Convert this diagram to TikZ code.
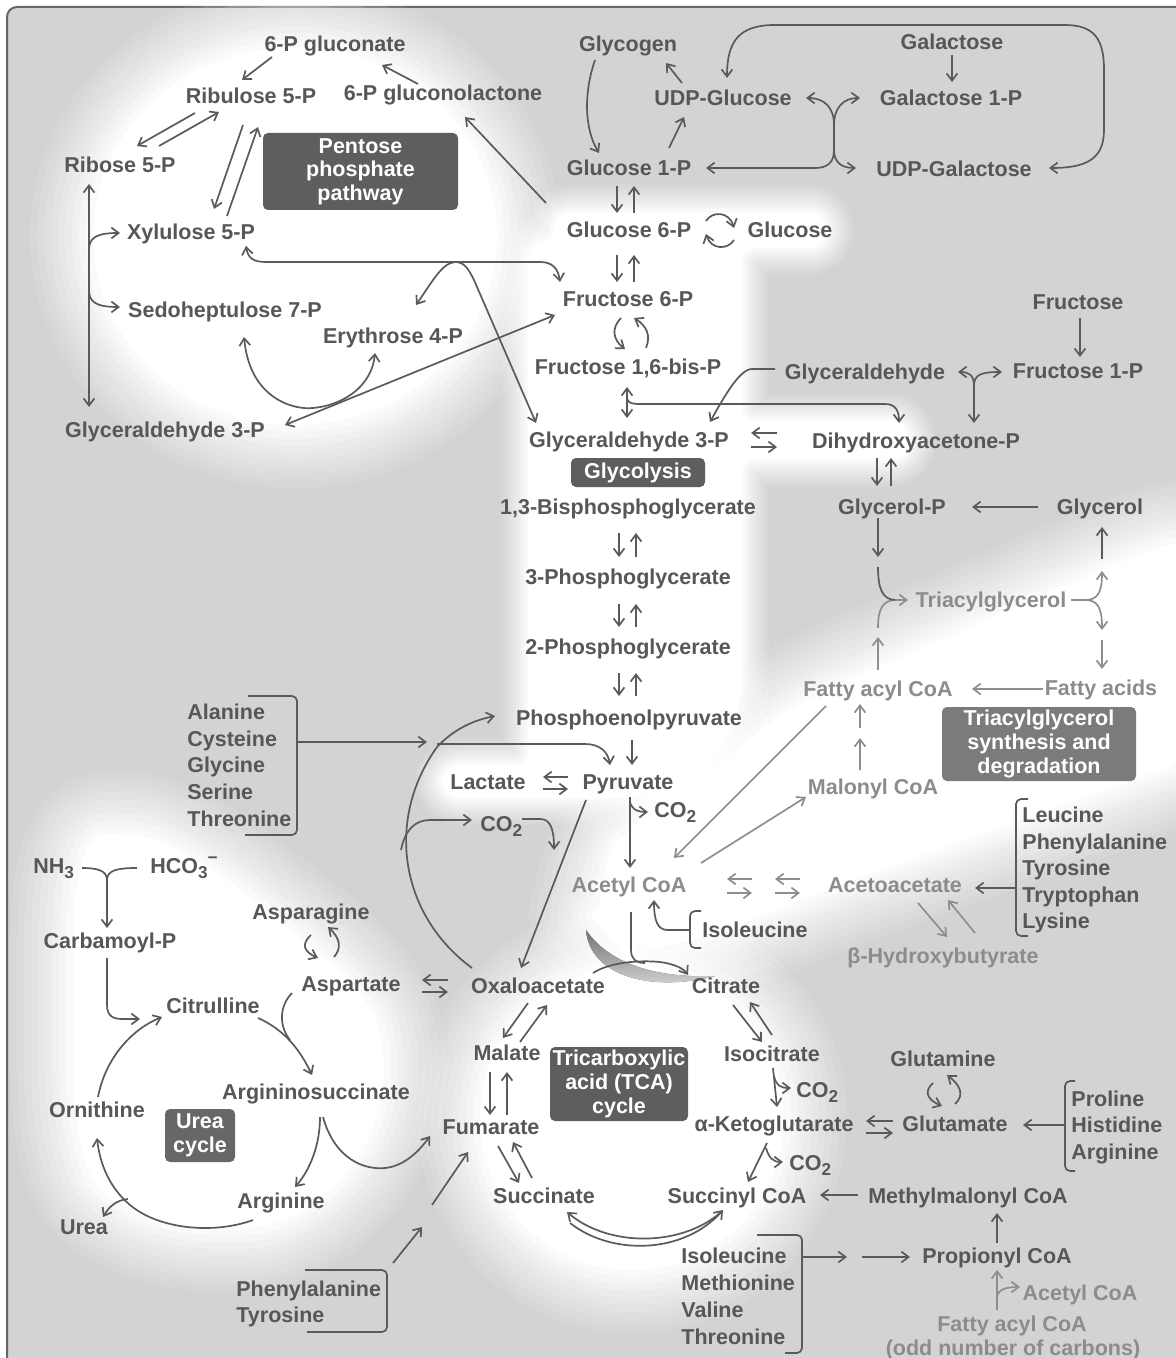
\documentclass[tikz,border=0pt]{standalone}
\usepackage{fontspec}
\setmainfont{Liberation Sans}
\usetikzlibrary{arrows.meta}
\definecolor{bg}{HTML}{D3D3D3}
\definecolor{txt}{HTML}{575757}
\definecolor{ltxt}{HTML}{8C8C8C}
\definecolor{ln}{HTML}{5A5A5A}
\definecolor{lln}{HTML}{8E8E8E}
\definecolor{boxd}{HTML}{5E5E5E}
\definecolor{boxu}{HTML}{676767}
\definecolor{boxl}{HTML}{7B7B7B}
\definecolor{shade}{HTML}{CFCFCF}
\newcommand\sbs[1]{\raisebox{-0.45ex}{\fontsize{8.6pt}{8.6pt}\selectfont #1}}
\newcommand\glowpath[2]{%
  \foreach \m in {10,9,8,7,6,5,4,3,2,1}{%
    \pgfmathsetmacro\op{1/\m}%
    \pgfmathsetmacro\lw{2*\m*#1}%
    \draw[white,opacity=\op,line width=\lw pt,line join=round] #2;}%
  \fill[white] #2;}
\begin{document}
\begin{tikzpicture}[x=0.5pt,y=-0.5pt,
 n/.style={font=\bfseries\fontsize{10.75pt}{13.4pt}\selectfont,text=txt,inner sep=0pt,text height=7.7pt,text depth=0pt},
 nl/.style={n,text=ltxt},
 bx/.style={font=\bfseries\fontsize{10.75pt}{11.8pt}\selectfont,text=white,fill=boxd,rounded corners=2.5pt,align=center,inner sep=0pt},
 ar/.style={draw=ln,line width=0.85pt,-{Straight Barb[length=3.6pt,width=5.4pt]}},
 dar/.style={draw=ln,line width=0.85pt,{Straight Barb[length=3.6pt,width=5.4pt]}-{Straight Barb[length=3.6pt,width=5.4pt]}},
 lar/.style={ar,draw=lln},
 lnn/.style={draw=ln,line width=0.85pt},
 llnn/.style={draw=lln,line width=0.85pt},
 brk/.style={draw=ln,line width=0.85pt,rounded corners=2.5pt}]
\useasboundingbox (0,0) rectangle (1176,1358);
\fill[white] (0,0) rectangle (1176,1358);
\draw[fill=bg,draw=black!60,line width=1pt,rounded corners=5pt] (7,7) rectangle (1220,1400);
% glowing regions
\glowpath{3.5}{(295,236) ellipse [x radius=97.5pt, y radius=91pt]}
\glowpath{1.5}{[rounded corners=8pt] (556,215) -- (824,215) -- (824,245) -- (739,245) -- (739,424) -- (906,424) -- (906,457) -- (739,457) -- (739,700) -- (695,795) -- (445,795) -- (445,768) -- (531,768) -- (531,245) -- (556,245) -- cycle}
\glowpath{3.5}{[rounded corners=20pt] (795,711) -- (1123,568) -- (1200,540) -- (1200,749) -- (826,882) -- (695,935) -- (625,945) -- (608,925) -- (606,880) -- (630,830) -- (705,785) -- cycle}
\glowpath{3.5}{plot[smooth cycle, tension=0.7] coordinates {(88,866) (128,842) (195,868) (270,922) (342,985) (375,1045) (362,1135) (298,1205) (215,1221) (128,1200) (88,1145) (80,1005)}}
\glowpath{3.5}{(632,1118) circle [radius=72.5pt]}
\fill[shade,opacity=0.85] (586,930) .. controls (590,978) and (655,992) .. (715,976) .. controls (665,978) and (612,968) .. (586,930);

% ---------- nodes ----------
\node[n] (pglc) at (335,44) {6-P gluconate};
\node[n] (ru5p) at (251,96) {Ribulose 5-P};
\node[n] (pglac) at (443,93) {6-P gluconolactone};
\node[n] (r5p) at (120,165) {Ribose 5-P};
\node[n] (x5p) at (191,232) {Xylulose 5-P};
\node[n] (s7p) at (225,310) {Sedoheptulose 7-P};
\node[n] (e4p) at (393,336) {Erythrose 4-P};
\node[n] (ga3pl) at (165,430) {Glyceraldehyde 3-P};
\node[bx,minimum width=97.5pt,minimum height=38.5pt] (ppp) at (360.5,171.5) {Pentose\\phosphate\\pathway};
\node[n] (glycogen) at (628,44) {Glycogen};
\node[n] (udpglc) at (723,98) {UDP-Glucose};
\node[n] (gal) at (952,42) {Galactose};
\node[n] (gal1p) at (951,98) {Galactose 1-P};
\node[n] (g1p) at (629,168) {Glucose 1-P};
\node[n] (udpgal) at (954,169) {UDP-Galactose};
\node[n] (g6p) at (629,230) {Glucose 6-P};
\node[n] (glc) at (790,230) {Glucose};
\node[n] (f6p) at (628,299) {Fructose 6-P};
\node[n] (fru) at (1078,302) {Fructose};
\node[n] (fbp) at (628,367) {Fructose 1,6-bis-P};
\node[n] (glyald) at (865,372) {Glyceraldehyde};
\node[n] (f1p) at (1078,371) {Fructose 1-P};
\node[n] (ga3p) at (629,440) {Glyceraldehyde 3-P};
\node[n] (dhap) at (916,441) {Dihydroxyacetone-P};
\node[bx,minimum width=67pt,minimum height=14.5pt] (glyc) at (638,472.5) {Glycolysis};
\node[n] (bpg) at (628,507) {1,3-Bisphosphoglycerate};
\node[n] (glp) at (892,507) {Glycerol-P};
\node[n] (glycerol) at (1100,507) {Glycerol};
\node[n] (pg3) at (628,577) {3-Phosphoglycerate};
\node[nl] (tag) at (991,600) {Triacylglycerol};
\node[n] (pg2) at (628,647) {2-Phosphoglycerate};
\node[nl] (facoa) at (878,689) {Fatty acyl CoA};
\node[nl] (fa) at (1101,688) {Fatty acids};
\node[bx,fill=boxl,minimum width=97pt,minimum height=37pt] (tagbox) at (1039,744) {Triacylglycerol\\synthesis and\\degradation};
\node[n] (pep) at (629,718) {Phosphoenolpyruvate};
\node[n,anchor=west] (ala) at (187,712) {Alanine};
\node[n,anchor=west] (cys) at (187,739) {Cysteine};
\node[n,anchor=west] (gly) at (187,765) {Glycine};
\node[n,anchor=west] (ser) at (187,792) {Serine};
\node[n,anchor=west] (thr) at (187,819) {Threonine};
\node[n] (lac) at (488,782) {Lactate};
\node[n] (pyr) at (628,782) {Pyruvate};
\node[n,anchor=west] (co2a) at (654,810) {CO\sbs{2}};
\node[n,anchor=west] (co2b) at (480,824) {CO\sbs{2}};
\node[nl] (malcoa) at (873,787) {Malonyl CoA};
\node[n,anchor=west] (leu) at (1022,815) {Leucine};
\node[n,anchor=west] (phe) at (1022,842) {Phenylalanine};
\node[n,anchor=west] (tyr) at (1022,868) {Tyrosine};
\node[n,anchor=west] (trp) at (1022,895) {Tryptophan};
\node[n,anchor=west] (lys) at (1022,921) {Lysine};
\node[n,anchor=west] (nh3) at (33,866) {NH\sbs{3}};
\node[n,anchor=west] (hco3) at (150,866) {HCO\sbs{3}\raisebox{0.9ex}{\fontsize{8.6pt}{8.6pt}\selectfont −}};
\node[nl] (accoa) at (629,885) {Acetyl CoA};
\node[nl] (acac) at (895,885) {Acetoacetate};
\node[n,anchor=west] (ile1) at (702,930) {Isoleucine};
\node[nl] (bhb) at (943,956) {β-Hydroxybutyrate};
\node[n] (asn) at (311,912) {Asparagine};
\node[n] (carb) at (110,941) {Carbamoyl-P};
\node[n] (asp) at (351,984) {Aspartate};
\node[n] (oaa) at (538,986) {Oxaloacetate};
\node[n] (cit) at (726,986) {Citrate};
\node[n] (citr) at (213,1006) {Citrulline};
\node[n] (mal) at (507,1053) {Malate};
\node[bx,minimum width=69pt,minimum height=37pt] (tca) at (619,1084) {Tricarboxylic\\acid (TCA)\\cycle};
\node[n] (icit) at (772,1054) {Isocitrate};
\node[n] (gln) at (943,1059) {Glutamine};
\node[n] (asuc) at (316,1092) {Argininosuccinate};
\node[n,anchor=west] (pro) at (1071,1099) {Proline};
\node[n,anchor=west] (his) at (1071,1125) {Histidine};
\node[n,anchor=west] (argl) at (1071,1152) {Arginine};
\node[n] (orn) at (97,1110) {Ornithine};
\node[bx,fill=boxu,minimum width=35pt,minimum height=26.5pt] (urea) at (200,1135.5) {Urea\\cycle};
\node[n] (fum) at (491,1127) {Fumarate};
\node[n] (akg) at (774,1124) {α-Ketoglutarate};
\node[n] (glu) at (955,1124) {Glutamate};
\node[n,anchor=west] (co2c) at (796,1090) {CO\sbs{2}};
\node[n,anchor=west] (co2d) at (789,1163) {CO\sbs{2}};
\node[n] (arg) at (281,1201) {Arginine};
\node[n] (ureat) at (84,1227) {Urea};
\node[n] (suc) at (544,1196) {Succinate};
\node[n] (succoa) at (737,1196) {Succinyl CoA};
\node[n] (mmcoa) at (968,1196) {Methylmalonyl CoA};
\node[n] (propcoa) at (997,1256) {Propionyl CoA};
\node[nl] (accoa2) at (1080,1293) {Acetyl CoA};
\node[nl] (facoa2) at (1012,1324) {Fatty acyl CoA};
\node[nl] (odd) at (1013,1348) {(odd number of carbons)};
\node[n,anchor=west] (phe2) at (236,1289) {Phenylalanine};
\node[n,anchor=west] (tyr2) at (236,1315) {Tyrosine};
\node[n,anchor=west] (ile2) at (681,1256) {Isoleucine};
\node[n,anchor=west] (met) at (681,1283) {Methionine};
\node[n,anchor=west] (val) at (681,1310) {Valine};
\node[n,anchor=west] (thr2) at (681,1337) {Threonine};

% ---------- pentose phosphate ----------
\draw[ar] (272,57) -- (242,80);
\draw[ar] (418,84) -- (382,65);
\draw[ar] (195,113) -- (137,146);
\draw[ar] (159,146) -- (219,112);
\draw[ar] (243,125) -- (214,209);
\draw[ar] (227,216) -- (258,127);
\draw[ar] (546,203) -- (465,117);
\draw[dar] (89,184) -- (89,407);
\draw[ar] (89,250) .. controls (89,238) and (96,233) .. (120,233);
\draw[ar] (89,290) .. controls (89,302) and (96,307) .. (120,307);
\draw[dar] (246,246) .. controls (248,258) and (253,262) .. (266,262) -- (540,262) .. controls (552,262) and (558,268) .. (560,282);
\draw[dar] (416,305) .. controls (432,282) and (442,263) .. (455,262) .. controls (464,262) and (468,268) .. (474,280) -- (536,423);
\draw[dar] (244,337) .. controls (250,400) and (295,410) .. (313,408) .. controls (345,405) and (372,385) .. (375,353);
\draw[dar] (285,425) -- (555,315);

% ---------- glycogen / galactose ----------
\draw[ar] (595,60) .. controls (583,95) and (585,130) .. (599,153);
\draw[ar] (669,148) -- (684,117);
\draw[ar] (682,83) -- (666,63);
\draw[ar] (834,125) .. controls (834,108) and (825,98) .. (806,98);
\draw[ar] (834,125) .. controls (834,108) and (843,98) .. (860,98);
\draw[lnn] (834,124) -- (834,151);
\draw[ar] (834,150) .. controls (834,161) and (840,168) .. (856,168);
\draw[ar] (834,150) .. controls (834,162) and (828,168) .. (815,168) -- (706,168);
\draw[ar] (952,55) -- (952,82);
\draw[dar] (727,78) .. controls (727,40) and (740,25) .. (775,25) -- (1065,25) .. controls (1095,25) and (1104,40) .. (1104,70) -- (1104,130) .. controls (1104,160) and (1085,168) .. (1049,168);

% ---------- glycolysis ----------
\draw[ar] (617,186) -- (617,213);
\draw[ar] (634,213) -- (634,186);
\draw[ar] (706,221) .. controls (712,211) and (729,211) .. (734,228);
\draw[ar] (734,240) .. controls (728,250) and (711,250) .. (706,234);
\draw[ar] (617,255) -- (617,282);
\draw[ar] (634,282) -- (634,255);
\draw[ar] (621,318) .. controls (611,328) and (613,340) .. (625,349);
\draw[ar] (646,348) .. controls (651,336) and (647,326) .. (634,318);
\draw[dar] (627,387) -- (627,418);
\draw[ar] (627,397) .. controls (627,402) and (630,404) .. (640,404) -- (885,404) .. controls (895,404) and (899,410) .. (899,423);
\draw[ar] (775,369) -- (752,369) .. controls (740,369) and (725,395) .. (710,422);
\draw[ar] (974,386) .. controls (974,375) and (969,372) .. (958,372);
\draw[ar] (974,386) .. controls (974,375) and (980,372) .. (1002,372);
\draw[ar] (974,385) -- (974,423);
\draw[ar] (1080,318) -- (1080,357);
\draw[ar] (777,433) -- (751,433);
\draw[ar] (751,447) -- (777,447);
\draw[ar] (877,458) -- (877,486);
\draw[ar] (891,486) -- (891,458);
\draw[ar] (1038,507) -- (972,507);
\draw[ar] (619,533) -- (619,557);
\draw[ar] (636,557) -- (636,533);
\draw[ar] (619,604) -- (619,627);
\draw[ar] (636,627) -- (636,604);
\draw[ar] (619,673) -- (619,696);
\draw[ar] (636,696) -- (636,673);
\draw[ar] (632,740) -- (632,765);
\draw[ar] (568,777) -- (543,777);
\draw[ar] (543,789) -- (568,789);

% ---------- amino acids to pyruvate, PEP, OAA ----------
\draw[brk] (248,696) -- (297,696) -- (297,835) -- (245,835);
\draw[ar] (297,742) -- (427,742);
\draw[ar] (437,744) -- (585,744) .. controls (600,744) and (608,752) .. (610,765);
\draw[ar] (472,968) .. controls (400,915) and (385,820) .. (437,747) .. controls (455,728) and (475,720) .. (495,716);
\draw[ar] (401,850) .. controls (405,830) and (415,820) .. (430,820) -- (472,820);
\draw[ar] (522,819) -- (540,819) .. controls (550,819) and (554,828) .. (554,850);
\draw[ar] (586,800) -- (521,968);
\draw[ar] (630,797) -- (630,868);
\draw[ar] (630,800) .. controls (630,808) and (636,812) .. (648,812);

% ---------- triacylglycerol ----------
\draw[lar] (826,706) -- (674,858);
\draw[lar] (701,863) -- (806,797);
\draw[lar] (860,770) -- (860,738);
\draw[lar] (860,728) -- (860,704);
\draw[lar] (878,670) -- (878,637);
\draw[llnn] (878,628) .. controls (878,610) and (882,600) .. (896,600);
\draw[ar] (878,518) -- (878,557);
\draw[lnn] (878,567) .. controls (878,588) and (882,600) .. (896,600);
\draw[lar] (895,600) -- (908,600);
\draw[llnn] (1071,600) -- (1086,600);
\draw[lar] (1085,600) .. controls (1098,600) and (1102,592) .. (1102,571);
\draw[ar] (1102,559) -- (1102,527);
\draw[lar] (1085,600) .. controls (1098,600) and (1102,608) .. (1102,630);
\draw[lar] (1102,640) -- (1102,669);
\draw[lar] (1043,689) -- (972,689);
\draw[lar] (752,879) -- (727,879);
\draw[lar] (727,893) -- (752,893);
\draw[lar] (800,879) -- (775,879);
\draw[lar] (775,893) -- (800,893);
\draw[lar] (918,903) -- (947,937);
\draw[lar] (975,933) -- (948,900);
\draw[brk] (1028,799) -- (1016,799) -- (1016,936) -- (1028,936);
\draw[ar] (1016,888) -- (975,888);
\draw[brk] (701,911) -- (690,911) -- (690,948) -- (701,948);
\draw[ar] (690,930) -- (668,930) .. controls (658,930) and (654,922) .. (654,900);
\draw[lnn] (631,912) -- (631,950) .. controls (631,959) and (636,963) .. (645,963);
\draw[ar] (593,973) .. controls (610,962) and (640,960) .. (660,962) .. controls (675,964) and (684,969) .. (688,975);

% ---------- TCA ----------
\draw[ar] (528,1003) -- (503,1038);
\draw[ar] (520,1042) -- (547,1005);
\draw[ar] (490,1072) -- (490,1115);
\draw[ar] (507,1115) -- (507,1072);
\draw[ar] (498,1146) -- (519,1183);
\draw[ar] (532,1178) -- (513,1142);
\draw[ar] (720,1213) .. controls (680,1247) and (608,1247) .. (567,1212);
\draw[ar] (570,1223) .. controls (612,1256) and (684,1254) .. (723,1210);
\draw[ar] (733,1005) -- (762,1042);
\draw[ar] (772,1035) -- (750,1002);
\draw[ar] (773,1068) -- (777,1107);
\draw[ar] (774,1076) .. controls (776,1085) and (780,1088) .. (791,1088);
\draw[ar] (767,1143) -- (748,1182);
\draw[ar] (766,1148) .. controls (769,1158) and (773,1162) .. (783,1162);
\draw[ar] (893,1121) -- (866,1121);
\draw[ar] (866,1133) -- (893,1133);
\draw[ar] (933,1083) .. controls (923,1092) and (928,1100) .. (942,1106);
\draw[ar] (955,1104) .. controls (965,1095) and (960,1085) .. (947,1075);
\draw[brk] (1075,1081) -- (1065,1081) -- (1065,1171) -- (1075,1171);
\draw[ar] (1065,1125) -- (1023,1125);
\draw[ar] (858,1195) -- (820,1195);
\draw[ar] (997,1243) -- (997,1213);
\draw[lar] (997,1310) -- (997,1270);
\draw[lar] (997,1298) .. controls (997,1290) and (1005,1287) .. (1020,1287);
\draw[brk] (757,1235) -- (802,1235) -- (802,1353) -- (785,1353);
\draw[ar] (802,1257) -- (847,1257);
\draw[ar] (862,1257) -- (910,1257);
\draw[brk] (305,1270) -- (387,1270) -- (387,1332) -- (307,1332);
\draw[ar] (393,1263) -- (422,1227);
\draw[ar] (432,1205) -- (468,1152);

% ---------- urea cycle ----------
\draw[lnn] (82,868) .. controls (96,868) and (107,870) .. (107,880);
\draw[lnn] (137,868) .. controls (118,868) and (107,870) .. (107,880);
\draw[ar] (107,879) -- (107,928);
\draw[ar] (107,958) -- (107,1005) .. controls (107,1015) and (112,1019) .. (122,1019) -- (140,1019);
\draw[ar] (98,1097) .. controls (105,1060) and (130,1030) .. (162,1017);
\draw[ar] (258,1018) .. controls (285,1030) and (300,1050) .. (312,1075);
\draw[lnn] (292,993) .. controls (280,1005) and (278,1025) .. (290,1040);
\draw[ar] (323,1117) .. controls (335,1160) and (365,1170) .. (385,1168) .. controls (405,1166) and (420,1150) .. (430,1136);
\draw[ar] (320,1117) .. controls (320,1145) and (310,1170) .. (295,1187);
\draw[ar] (253,1220) .. controls (215,1234) and (160,1230) .. (130,1205) .. controls (110,1188) and (100,1165) .. (97,1138);
\draw[ar] (128,1199) .. controls (118,1200) and (110,1205) .. (103,1217);
\draw[ar] (311,935) .. controls (300,945) and (305,952) .. (318,958);
\draw[ar] (334,957) .. controls (342,948) and (340,938) .. (328,927);
\draw[ar] (448,980) -- (422,980);
\draw[ar] (422,992) -- (448,992);
\end{tikzpicture}
\end{document}
